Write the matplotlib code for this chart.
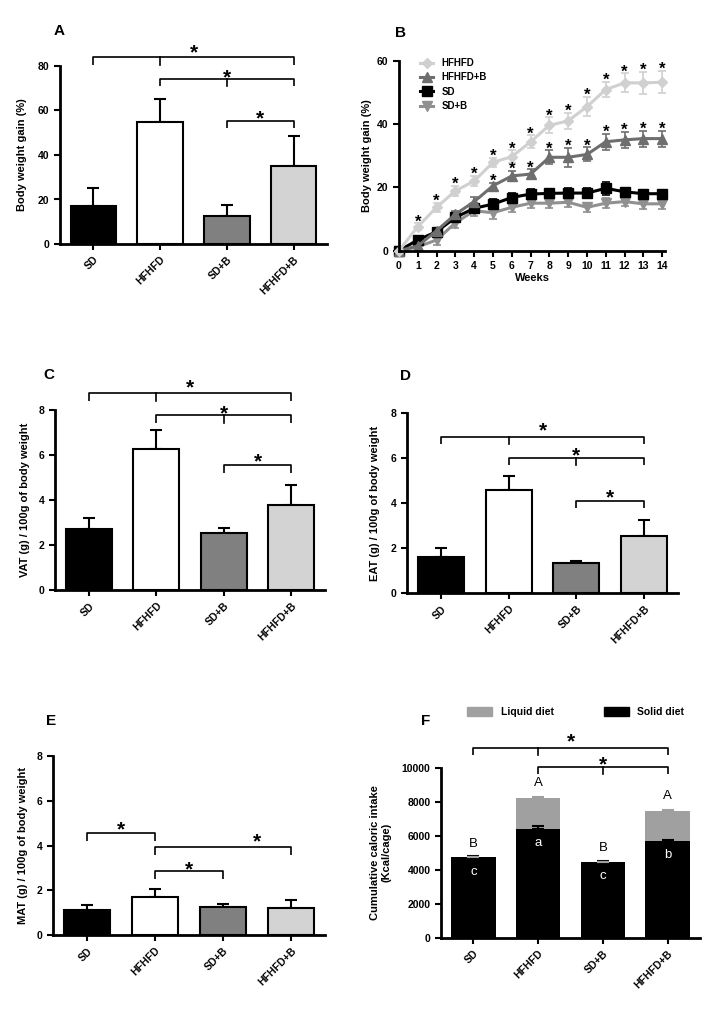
import numpy as np
import matplotlib
matplotlib.use('Agg')
import matplotlib.pyplot as plt
from matplotlib.lines import Line2D
from matplotlib.patches import Patch
from matplotlib import transforms

plt.rcParams['font.family'] = ['Liberation Sans', 'DejaVu Sans']
plt.rcParams['font.weight'] = 'bold'

# ---------------- data ----------------
groups = ['SD', 'HFHFD', 'SD+B', 'HFHFD+B']
bar_colors = ['#000000', '#ffffff', '#808080', '#d3d3d3']

bwg_mean = [17, 55, 12.5, 35]
bwg_err = [8, 10, 5, 13.5]

weeks = list(range(15))
week_labels = [str(w) for w in weeks]
hfhfd_curve = [0, 7.6, 13.7, 18.9, 22, 27.9, 29.7, 34.4, 39.6, 41, 45.5, 50.9, 53, 53, 53.2]
hfhfd_curve_err = [0, 1, 1.5, 1.5, 1.5, 1.5, 2, 2, 2.5, 2.5, 3, 2.5, 3, 3.5, 3.5]
hfhfdb_curve = [0, 1.5, 6.3, 11.5, 15.5, 20.5, 23.6, 24.2, 29.5, 29.5, 30.4, 34.4, 35, 35.4, 35.4]
hfhfdb_curve_err = [0, 0.5, 1, 1, 1.5, 1, 1.5, 1.5, 2.2, 3, 2.2, 2.5, 2.5, 2.5, 2.5]
sd_curve = [0, 3.4, 6, 10.5, 13.4, 14.7, 16.8, 17.9, 18.1, 18.2, 18.2, 19.7, 18.6, 18, 18]
sd_curve_err = [0, 0.8, 1, 1, 1.5, 1.5, 1.5, 1.5, 1.5, 1.5, 1.5, 2, 1, 1, 1]
sdb_curve = [0, 1.2, 3.4, 8.8, 12.6, 12, 13.7, 15, 15, 15.3, 13.7, 15, 15.5, 14.8, 14.8]
sdb_curve_err = [0, 0.5, 1.5, 1.5, 1.5, 2, 1.5, 1.5, 1.5, 1.5, 1.5, 1.5, 1.5, 1.5, 1.5]
hfhfd_star_weeks = list(range(1, 15))
hfhfdb_star_weeks = list(range(5, 15))

vat_mean = [2.71, 6.3, 2.56, 3.79]
vat_err = [0.52, 0.83, 0.2, 0.89]
eat_mean = [1.63, 4.61, 1.33, 2.56]
eat_err = [0.4, 0.62, 0.11, 0.71]
mat_mean = [1.13, 1.69, 1.25, 1.2]
mat_err = [0.22, 0.36, 0.14, 0.37]

solid_kcal = [4750, 6420, 4480, 5700]
solid_err = [50, 180, 40, 50]
liquid_kcal = [0, 1830, 0, 1770]
total_err = [0, 60, 0, 60]
upper_letters = ['B', 'A', 'B', 'A']
lower_letters = ['c', 'a', 'c', 'b']

# ---------------- figure ----------------
W, H = 709, 1013
fig = plt.figure(figsize=(W / 100, H / 100), dpi=100)


def axes_px(left, right, top, bottom):
    return fig.add_axes([left / W, (H - bottom) / H, (right - left) / W, (bottom - top) / H])


TICK_FS = 7.5
LABEL_FS = 8


def style_axes(ax):
    for s in ['top', 'right']:
        ax.spines[s].set_visible(False)
    for s in ['left', 'bottom']:
        ax.spines[s].set_linewidth(2)
    ax.tick_params(direction='out', length=4, width=1.5, labelsize=TICK_FS)


def star(ax, x, y, fs=15):
    # shift so that the asterisk glyph (not the text box) is centred on (x, y)
    tr = transforms.offset_copy(ax.transData, fig=fig, x=0, y=-0.23 * fs, units='points')
    ax.text(x, y, '*', ha='center', va='center', fontsize=fs, fontweight='bold',
            transform=tr, clip_on=False)


def bracket(ax, x0, x1, y, h, mids=(), st=None):
    ax.plot([x0, x0, x1, x1], [y - h, y, y, y - h], color='black', lw=1.2,
            clip_on=False, solid_capstyle='butt')
    for m in mids:
        ax.plot([m, m], [y, y - h], color='black', lw=1.2, clip_on=False)
    if st is not None:
        star(ax, st[0], st[1])


def bar_panel(ax, means, errs, ytop, yticks, ylabel, lab_x):
    x = np.arange(len(groups))
    ax.bar(x, means, width=0.68, color=bar_colors, edgecolor='black', linewidth=1.5, zorder=2)
    ax.errorbar(x, means, yerr=[np.zeros(len(errs)), errs], fmt='none', ecolor='black',
                elinewidth=1.5, capsize=4, capthick=1.5, zorder=1)
    ax.set_xlim(-0.5, 3.5)
    ax.set_ylim(0, ytop)
    ax.set_yticks(yticks)
    ax.set_xticks(x)
    ax.set_xticklabels(groups, rotation=45, ha='right', va='top', rotation_mode='anchor')
    style_axes(ax)
    ax.set_ylabel(ylabel, fontsize=LABEL_FS, fontweight='bold')
    ax.yaxis.set_label_coords(lab_x, 0.5)


# ---- Panel A ----
axA = axes_px(60, 327, 66, 244)
bar_panel(axA, bwg_mean, bwg_err, 80, [0, 20, 40, 60, 80], 'Body weight gain (%)', -0.125)
bracket(axA, 0, 3, 84, 3.5, mids=[1], st=(1.5, 88))
bracket(axA, 1, 3, 74.3, 3.5, mids=[2], st=(2, 77))
bracket(axA, 2, 3, 55.4, 3.2, st=(2.5, 58.4))

# ---- Panel B ----
axB = axes_px(399, 665, 60.7, 250.7)
series = [
    ('HFHFD', hfhfd_curve, hfhfd_curve_err, '#d0d0d0', 'D', 5),
    ('HFHFD+B', hfhfdb_curve, hfhfdb_curve_err, '#6e6e6e', '^', 7),
    ('SD', sd_curve, sd_curve_err, '#000000', 's', 6.5),
    ('SD+B', sdb_curve, sdb_curve_err, '#909090', 'v', 7),
]
handles = []
for name, m, e, c, mk, ms in reversed(series):
    axB.errorbar(weeks, m, yerr=e, color=c, ecolor=c, lw=2.2, marker=mk, ms=ms,
                 capsize=3, capthick=1.2, elinewidth=1.2, clip_on=False)
for name, m, e, c, mk, ms in series:
    handles.append(Line2D([0], [0], color=c, lw=2.2, marker=mk, ms=ms, label=name))
for w in hfhfd_star_weeks:
    star(axB, w, hfhfd_curve[w] + hfhfd_curve_err[w] + 1.7, fs=12)
for w in hfhfdb_star_weeks:
    star(axB, w, hfhfdb_curve[w] + hfhfdb_curve_err[w] + 1.7, fs=12)
axB.set_xlim(0, 14.15)
axB.set_ylim(0, 60)
axB.set_yticks([0, 20, 40, 60])
axB.set_xticks(weeks)
axB.set_xticklabels(week_labels)
style_axes(axB)
axB.set_xlabel('Weeks', fontsize=LABEL_FS, fontweight='bold', labelpad=1)
axB.set_ylabel('Body weight gain (%)', fontsize=LABEL_FS, fontweight='bold')
axB.yaxis.set_label_coords(-0.1, 0.5)
axB.legend(handles=handles, loc='upper left', bbox_to_anchor=(0.06, 1.04), frameon=False,
           fontsize=7, handlelength=1.4, handletextpad=0.8, labelspacing=0.45,
           borderpad=0)

# ---- Panel C ----
axC = axes_px(55, 325, 410.3, 590.3)
bar_panel(axC, vat_mean, vat_err, 8, [0, 2, 4, 6, 8], 'VAT (g) / 100g of body weight', -0.093)
bracket(axC, 0, 3, 8.79, 0.38, mids=[1], st=(1.5, 9.2))
bracket(axC, 1, 3, 7.79, 0.36, mids=[2], st=(2, 8.06))
bracket(axC, 2, 3, 5.57, 0.36, st=(2.5, 5.9))

# ---- Panel D ----
axD = axes_px(407, 678, 413.3, 593.3)
bar_panel(axD, eat_mean, eat_err, 8, [0, 2, 4, 6, 8], 'EAT (g) / 100g of body weight', -0.1)
bracket(axD, 0, 3, 6.96, 0.34, mids=[1], st=(1.5, 7.45))
bracket(axD, 1, 3, 6.03, 0.34, mids=[2], st=(2, 6.34))
bracket(axD, 2, 3, 4.12, 0.32, st=(2.5, 4.47))

# ---- Panel E ----
axE = axes_px(53, 325, 755.7, 935.3)
bar_panel(axE, mat_mean, mat_err, 8, [0, 2, 4, 6, 8], 'MAT (g) / 100g of body weight', -0.092)
bracket(axE, 0, 1, 4.57, 0.36, st=(0.5, 4.93))
bracket(axE, 1, 3, 3.95, 0.38, st=(2.5, 4.39))
bracket(axE, 1, 2, 2.86, 0.36, st=(1.5, 3.13))

# ---- Panel F ----
axF = axes_px(441, 700, 768, 937.7)
xF = np.arange(len(groups))
axF.bar(xF, solid_kcal, width=0.69, color='black', zorder=2)
axF.bar(xF, liquid_kcal, bottom=solid_kcal, width=0.69, color='#a0a0a0', zorder=2)
totals = [s + l for s, l in zip(solid_kcal, liquid_kcal)]
axF.errorbar(xF, solid_kcal, yerr=[np.zeros(4), solid_err], fmt='none', ecolor='black',
             elinewidth=1.5, capsize=4, capthick=1.5, zorder=3)
axF.errorbar(xF, totals, yerr=[np.zeros(4), total_err], fmt='none', ecolor='#a0a0a0',
             elinewidth=1.5, capsize=4, capthick=1.5, zorder=3)
for i in range(4):
    axF.text(xF[i], totals[i] + total_err[i] + 800, upper_letters[i], ha='center', va='center',
             fontsize=9.5, fontweight='normal', color='black')
    axF.text(xF[i], solid_kcal[i] - 850, lower_letters[i], ha='center', va='center',
             fontsize=9.5, fontweight='normal', color='white', zorder=4)
axF.set_xlim(-0.5, 3.5)
axF.set_ylim(0, 10000)
axF.set_yticks([0, 2000, 4000, 6000, 8000, 10000])
axF.set_xticks(xF)
axF.set_xticklabels(groups, rotation=45, ha='right', va='top', rotation_mode='anchor')
style_axes(axF)
axF.set_ylabel('Cumulative caloric intake\n(Kcal/cage)', fontsize=LABEL_FS, fontweight='bold')
axF.yaxis.set_label_coords(-0.19, 0.5)
bracket(axF, 0, 3, 11200, 430, mids=[1], st=(1.5, 11800))
bracket(axF, 1, 3, 10040, 410, mids=[2], st=(2, 10470))
axF.legend(handles=[Patch(color='#a0a0a0', label='Liquid diet'),
                    Patch(color='black', label='Solid diet')],
           loc='center left', bbox_to_anchor=(462 / W, 1 - 712 / H),
           bbox_transform=fig.transFigure, ncol=2, frameon=False, fontsize=7.5,
           handlelength=2.4, handleheight=0.9, handletextpad=0.8, columnspacing=4.8,
           borderpad=0)

# ---- panel letters ----
for lab, xp, yp in [('A', 54, 35), ('B', 395, 37), ('C', 43, 379), ('D', 400, 380),
                    ('E', 46, 725), ('F', 421, 725)]:
    fig.text(xp / W, 1 - yp / H, lab, fontsize=11, fontweight='bold', ha='left', va='baseline')

fig.savefig('out.png', dpi=100)
